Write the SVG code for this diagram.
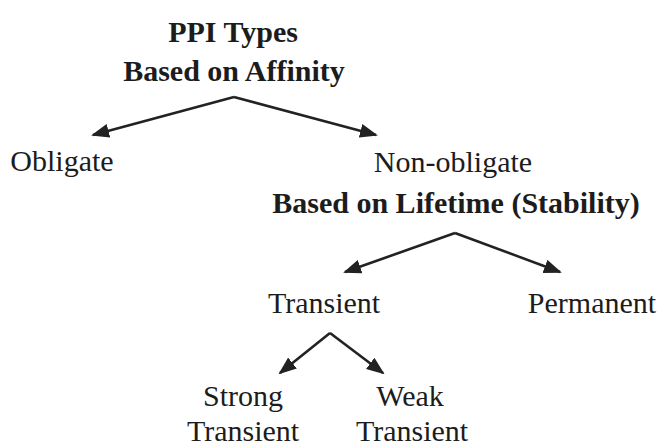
<svg xmlns="http://www.w3.org/2000/svg" width="661" height="448" viewBox="0 0 661 448">
<style>
.t{font-family:'Liberation Serif','Times New Roman',serif;font-size:30px;fill:#1c1c1c}
.b{font-weight:bold}
.c{fill:none;stroke:#222;stroke-width:2.6}
</style>
<defs>
<marker id="ah" markerUnits="userSpaceOnUse" markerWidth="18" markerHeight="14" viewBox="0 0 18 14" refX="16" refY="7" orient="auto">
<path d="M0,0 L18,7 L0,14 Z" fill="#222"/>
</marker>
</defs>
<rect width="661" height="448" fill="#fff"/>
<g id="root">
<text class="t b" x="233" y="42" text-anchor="middle">PPI Types</text>
<text class="t b" x="234" y="81" text-anchor="middle">Based on Affinity</text>
</g>
<g id="obligate">
<text class="t" x="62" y="171" text-anchor="middle">Obligate</text>
</g>
<g id="nonobligate">
<text class="t" x="453" y="172" text-anchor="middle">Non-obligate</text>
<text class="t b" x="456" y="213" text-anchor="middle">Based on Lifetime (Stability)</text>
</g>
<g id="transient">
<text class="t" x="324" y="313" text-anchor="middle">Transient</text>
</g>
<g id="permanent">
<text class="t" x="592" y="313" text-anchor="middle">Permanent</text>
</g>
<g id="strong">
<text class="t" x="243" y="406" text-anchor="middle">Strong</text>
<text class="t" x="243" y="441" text-anchor="middle">Transient</text>
</g>
<g id="weak">
<text class="t" x="410" y="406" text-anchor="middle">Weak</text>
<text class="t" x="412" y="441" text-anchor="middle">Transient</text>
</g>
<g id="connectors">
<path class="c" d="M234,97 L93,135" marker-end="url(#ah)"/>
<path class="c" d="M234,97 L376,135" marker-end="url(#ah)"/>
<path class="c" d="M455,233 L345,272" marker-end="url(#ah)"/>
<path class="c" d="M455,233 L560,272" marker-end="url(#ah)"/>
<path class="c" d="M330,333 L280,373" marker-end="url(#ah)"/>
<path class="c" d="M330,333 L383,373" marker-end="url(#ah)"/>
</g>
</svg>
